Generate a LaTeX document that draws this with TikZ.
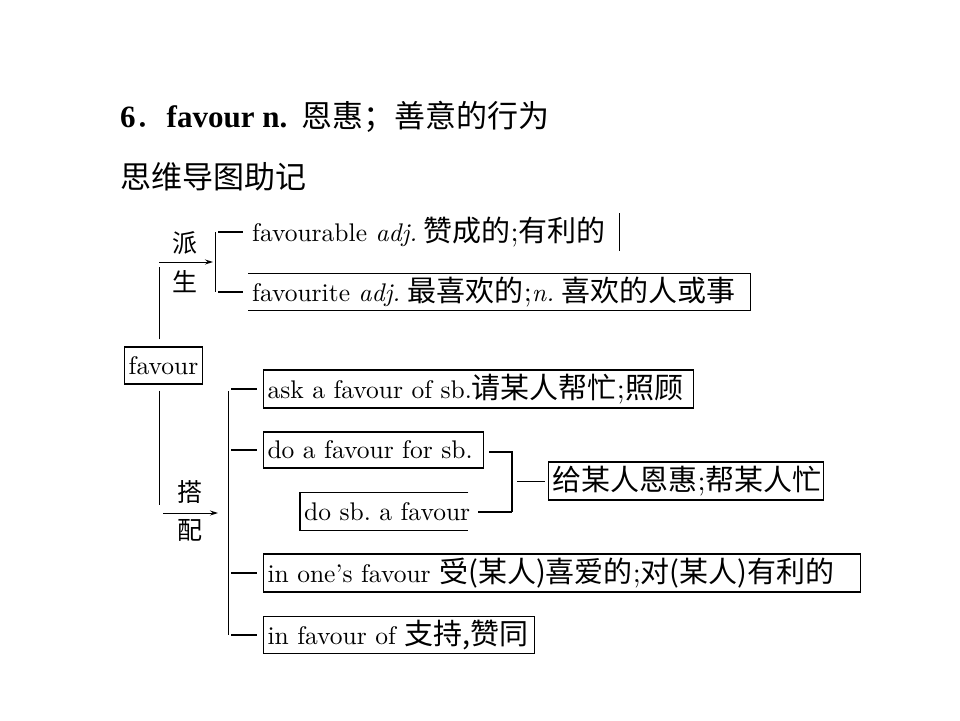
\documentclass[tikz,border=0pt]{standalone}
\usepackage{fontspec}
\setmainfont{lmroman10-regular.otf}[ItalicFont=lmroman10-italic.otf]
\newfontfamily\cjk{Noto Sans CJK SC}
\newfontfamily\tnr{Liberation Serif}
\usetikzlibrary{arrows.meta}
\newcommand\zh[1]{{\cjk\fontsize{29}{32}\selectfont #1}}
\newcommand\semi{{\fontsize{29}{32}\selectfont;}}
\newcommand\ttlen{\tnr\bfseries\fontsize{31}{36}\selectfont}
\newcommand\ttlzh{\cjk\fontsize{31}{36}\selectfont}
\frenchspacing

\begin{document}
\begin{tikzpicture}[x=1pt,y=-1pt,
  dfont/.style={font=\fontsize{25.5}{30}\selectfont},
  tbox/.style={dfont,draw,line width=1.1pt,inner xsep=4pt,inner ysep=0pt,anchor=west,align=left},
  plain/.style={dfont,inner xsep=4pt,inner ysep=0pt,anchor=west,align=left},
  boxln/.style={line width=1.1pt},
  lbl/.style={font=\cjk\fontsize{25}{28}\selectfont,inner sep=0pt},
  ln/.style={line width=1pt},
  stub/.style={line width=2pt},
  arr/.style={-{Stealth[length=8pt,width=5pt]},line width=1pt}
]
\useasboundingbox (0,0) rectangle (960,720);
\node[anchor=west,inner sep=0pt] (ttl) at (120,117) {{\ttlen 6}{\ttlzh ．}{\ttlen favour n.}\hspace{14pt}{\ttlzh 恩惠；善意的行为}};
\node[anchor=west,inner sep=0pt] (sub) at (120,177) {\ttlzh 思维导图助记};

\node[tbox,anchor=center,minimum width=77pt,minimum height=37pt,align=center] (fav) at (163.5,365.5) {favour};

\node[lbl] (pai) at (185,243) {派};
\node[lbl] (sheng) at (185,282) {生};
\node[plain,text width=363pt,minimum height=37pt] (d1) at (248,232) {\mbox{favourable \textit{adj.}\hspace{0.25em}\zh{赞成的}\semi\zh{有利的}}};
\node[plain,text width=494pt,minimum height=36pt] (d2) at (248,292) {\mbox{favourite \textit{adj.}\hspace{0.3em}\zh{最喜欢的}\semi\textit{n.}\hspace{0.3em}\zh{喜欢的人或事}}};

\node[lbl] (da) at (190,492) {搭};
\node[lbl] (pei) at (190,530) {配};
\node[tbox,text width=422pt,minimum height=38pt] (c1) at (263,389) {\mbox{ask a favour of sb.\zh{请某人帮忙}\semi\zh{照顾}}};
\node[tbox,text width=212pt,minimum height=36pt] (c2) at (263,450) {\mbox{do a favour for sb.}};
\node[plain,text width=160pt,minimum height=37pt] (c3) at (300,511.5) {\mbox{do sb. a favour}};
\node[tbox,text width=267pt,minimum height=38pt] (m) at (548,481) {\mbox{\zh{给某人恩惠}\semi\zh{帮某人忙}}};
\node[tbox,text width=589pt,minimum height=38pt] (c4) at (263,573) {\mbox{in one's favour \zh{受(某人)喜爱的}\semi\zh{对(某人)有利的}}};
\node[tbox,text width=263pt,minimum height=37pt] (c5) at (263,635) {\mbox{in favour of \zh{支持,赞同}}};

\coordinate (ua) at (159,262);
\coordinate (ub) at (213,262);
\coordinate (ut) at (215,232);
\coordinate (ubt) at (215,292);
\draw[ln] ([xshift=-4.5pt,yshift=7pt]fav.north) -- ([yshift=-5pt]ua);
\draw[arr] (ua) -- (ub);
\draw[ln] (ut) -- (ubt);
\draw[stub,shorten <=3pt,shorten >=5pt] (ut |- d1.west) -- (d1.west);
\draw[stub,shorten <=3pt,shorten >=5pt] (ut |- d2.west) -- (d2.west);
\draw[ln] (d1.north east) -- (d1.south east);
\draw[boxln] (d2.north west) -- (d2.north east) -- (d2.south east) -- (d2.south west);

\coordinate (la) at (163,513);
\coordinate (lb) at (218,513);
\coordinate (lt) at (228,391);
\coordinate (lbt) at (228,635);
\draw[ln] ([xshift=-4.5pt,yshift=-6pt]fav.south) -- ([xshift=-4pt,yshift=8pt]la);
\draw[arr] (la) -- (lb);
\draw[ln] (lt) -- (lbt);
\foreach \n in {c1,c2,c4,c5}
  \draw[stub,shorten <=3pt,shorten >=6pt] (lt |- \n.west) -- (\n.west);
\draw[boxln] (c3.north east) -- (c3.north west) -- (c3.south west) -- (c3.south east);

\coordinate (jt) at (512,452);
\coordinate (jb) at (512,512);
\draw[stub,line width=2.4pt,shorten <=5pt] (c2.east |- jt) -- (jt) -- (jb);
\draw[stub,shorten <=10pt] (c3.east |- jb) -- (jb);
\draw[ln,shorten <=5pt,shorten >=3pt] (jt |- m.west) -- (m.west);
\end{tikzpicture}
\end{document}
